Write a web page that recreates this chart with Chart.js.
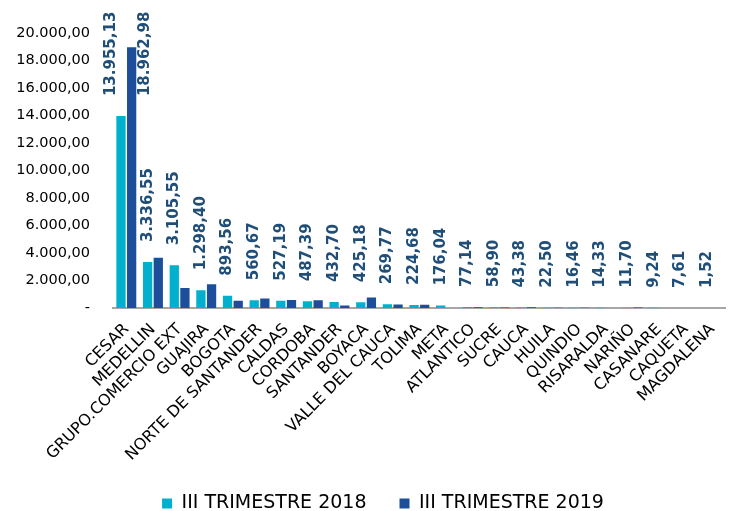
<!DOCTYPE html>
<html>
<head>
<meta charset="utf-8">
<script src="https://cdn.jsdelivr.net/npm/chart.js@4.4.0/dist/chart.umd.min.js"></script>
<style>
  html, body { margin: 0; padding: 0; background: #fff; }
</style>
</head>
<body>
<canvas id="chart" width="738" height="511"></canvas>
<script>
// data
var categories = ['CESAR', 'MEDELLIN', 'GRUPO.COMERCIO EXT', 'GUAJIRA', 'BOGOTA', 'NORTE DE SANTANDER',
    'CALDAS', 'CORDOBA', 'SANTANDER', 'BOYACA', 'VALLE DEL CAUCA', 'TOLIMA', 'META', 'ATLANTICO',
    'SUCRE', 'CAUCA', 'HUILA', 'QUINDIO', 'RISARALDA', 'NARIÑO', 'CASANARE', 'CAQUETA', 'MAGDALENA'];
var values2018 = [13955.13, 3336.55, 3105.55, 1298.40, 893.56, 560.67, 527.19, 487.39, 432.70, 425.18,
    269.77, 224.68, 176.04, 77.14, 58.90, 43.38, 22.50, 16.46, 14.33, 11.70, 9.24, 7.61, 1.52];
var values2019 = [18962.98, 3650, 1460, 1720, 530, 690, 590, 560, 190, 760,
    260, 240, 5, 60, 45, 50, 15, 20, 8, 40, 6, 4, 2];
// categories whose 2019 value also carries a label
var labeled2019 = ['CESAR'];
var seriesNames = ['III TRIMESTRE 2018', 'III TRIMESTRE 2019'];
var yTicks = [0, 2000, 4000, 6000, 8000, 10000, 12000, 14000, 16000, 18000, 20000];

function fmt(v) {
    var parts = v.toFixed(2).split('.');
    var ent = parts[0].replace(/\B(?=(\d{3})+(?!\d))/g, '.');
    return ent + ',' + parts[1];
}

Chart.defaults.font.family = '"DejaVu Sans", Verdana, sans-serif';
Chart.defaults.color = '#000';

var valueLabels = {
    id: 'valueLabels',
    afterLayout: function(chart) {
        // legend sits a little right of centre in the original
        chart.legend.left += 14;
        chart.legend.right += 14;
    },
    afterDatasetsDraw: function(chart) {
        var ctx = chart.ctx;
        var m18 = chart.getDatasetMeta(0);
        var m19 = chart.getDatasetMeta(1);
        ctx.save();
        ctx.font = 'bold 15px "DejaVu Sans", Verdana, sans-serif';
        ctx.fillStyle = '#1F4E79';
        ctx.textAlign = 'left';
        ctx.textBaseline = 'middle';
        for (var i = 0; i < categories.length; i++) {
            var b = m18.data[i];
            var both = labeled2019.indexOf(categories[i]) >= 0;
            var baseY = b.y - 20;
            var list = [[b.x + (both ? -10 : 0), values2018[i]]];
            if (both) {
                var b2 = m19.data[i];
                list.push([b2.x + b2.width / 2 + 9, values2019[i]]);
            }
            list.forEach(function(it) {
                ctx.save();
                ctx.translate(it[0], baseY);
                ctx.rotate(-Math.PI / 2);
                ctx.fillText(fmt(it[1]), 0, 0);
                ctx.restore();
            });
        }
        ctx.restore();
    }
};

var chart = new Chart(document.getElementById('chart').getContext('2d'), {
    type: 'bar',
    data: {
        labels: categories,
        datasets: [
            {
                label: seriesNames[0],
                data: values2018,
                backgroundColor: '#00B0CC',
                barPercentage: 0.87,
                categoryPercentage: 0.8
            },
            {
                label: seriesNames[1],
                data: values2019,
                backgroundColor: '#1C4E9A',
                barPercentage: 0.87,
                categoryPercentage: 0.8
            }
        ]
    },
    options: {
        responsive: false,
        animation: false,
        layout: { padding: { top: 33, right: 0, left: 0, bottom: -12 } },
        scales: {
            x: {
                grid: { display: false, drawTicks: false },
                border: { display: true, color: '#A6A6A6', width: 2 },
                ticks: {
                    autoSkip: false,
                    minRotation: 45,
                    maxRotation: 45,
                    padding: 12,
                    color: '#000',
                    font: { size: 16 }
                },
                afterFit: function(s) { s.height = 153; }
            },
            y: {
                min: 0,
                max: 20000,
                grid: { display: false, drawTicks: false },
                border: { display: false },
                afterBuildTicks: function(s) {
                    s.ticks = yTicks.map(function(v) { return { value: v }; });
                },
                ticks: {
                    padding: 23,
                    color: '#000',
                    font: { size: 14.5 },
                    callback: function(v) { return v === 0 ? '-' : fmt(v); }
                },
                afterFit: function(s) { s.width = 113; }
            }
        },
        plugins: {
            tooltip: { enabled: false },
            legend: {
                position: 'bottom',
                labels: {
                    boxWidth: 10,
                    boxHeight: 10,
                    padding: 33,
                    color: '#000',
                    font: { size: 19 }
                }
            }
        }
    },
    plugins: [valueLabels]
});
</script>
</body>
</html>
